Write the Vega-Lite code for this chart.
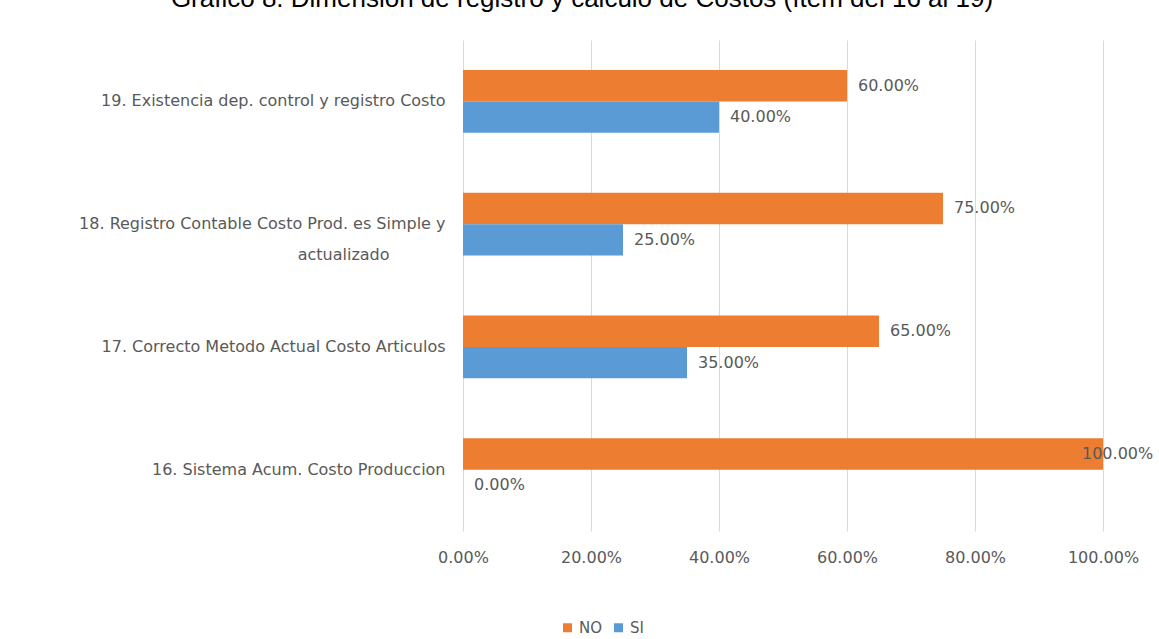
{
  "$schema": "https://vega.github.io/schema/vega-lite/v6.json",
  "width": 640,
  "height": 491,
  "autosize": {"type": "none"},
  "padding": {"left": 463, "top": 40, "right": 56, "bottom": 108},
  "background": "white",
  "title": {
    "text": "Gráfico 8. Dimensión de registro y cálculo de Costos (ítem del 16 al 19)",
    "font": "Liberation Sans",
    "fontSize": 26,
    "fontWeight": "normal",
    "color": "#000000",
    "anchor": "middle",
    "dx": -201,
    "offset": 28
  },
  "config": {
    "view": {"stroke": null},
    "font": "DejaVu Sans"
  },
  "data": {
    "values": [
      {"item": "19. Existencia dep. control y registro Costo", "resp": "NO", "pct": 0.60},
      {"item": "19. Existencia dep. control y registro Costo", "resp": "SI", "pct": 0.40},
      {"item": "18. Registro Contable Costo Prod. es Simple y actualizado", "resp": "NO", "pct": 0.75},
      {"item": "18. Registro Contable Costo Prod. es Simple y actualizado", "resp": "SI", "pct": 0.25},
      {"item": "17. Correcto Metodo Actual Costo Articulos", "resp": "NO", "pct": 0.65},
      {"item": "17. Correcto Metodo Actual Costo Articulos", "resp": "SI", "pct": 0.35},
      {"item": "16. Sistema Acum. Costo Produccion", "resp": "NO", "pct": 1.00},
      {"item": "16. Sistema Acum. Costo Produccion", "resp": "SI", "pct": 0.00}
    ]
  },
  "encoding": {
    "y": {
      "field": "item",
      "type": "nominal",
      "sort": [
        "19. Existencia dep. control y registro Costo",
        "18. Registro Contable Costo Prod. es Simple y actualizado",
        "17. Correcto Metodo Actual Costo Articulos",
        "16. Sistema Acum. Costo Produccion"
      ],
      "scale": {"paddingInner": 0.49, "paddingOuter": 0.245},
      "axis": {
        "title": null,
        "domain": false,
        "ticks": false,
        "grid": false,
        "labelFont": "DejaVu Sans",
        "labelFontSize": 16,
        "labelColor": "#595959",
        "labelPadding": 18,
        "labelLimit": 460,
        "labelLineHeight": 31,
        "labelExpr": "datum.value == '18. Registro Contable Costo Prod. es Simple y actualizado' ? ['18. Registro Contable Costo Prod. es Simple y', 'actualizado\u00a0\u00a0\u00a0\u00a0\u00a0\u00a0\u00a0\u00a0\u00a0\u00a0\u00a0\u200b'] : datum.value"
      }
    },
    "yOffset": {"field": "resp", "type": "nominal", "sort": ["NO", "SI"], "scale": {"paddingInner": 0}},
    "x": {
      "field": "pct",
      "type": "quantitative",
      "scale": {"domain": [0, 1], "nice": false},
      "axis": {
        "title": null,
        "format": ".2%",
        "values": [0, 0.2, 0.4, 0.6, 0.8, 1],
        "domain": false,
        "ticks": false,
        "grid": true,
        "gridColor": "#d9d9d9",
        "gridWidth": 1,
        "labelFlush": false,
        "labelFont": "DejaVu Sans",
        "labelFontSize": 16,
        "labelColor": "#595959",
        "labelPadding": 18
      }
    }
  },
  "layer": [
    {
      "mark": {"type": "bar"},
      "encoding": {
        "color": {
          "field": "resp",
          "type": "nominal",
          "sort": ["NO", "SI"],
          "scale": {"domain": ["NO", "SI"], "range": ["#ED7D31", "#5B9BD5"]},
          "legend": {
            "title": null,
            "orient": "none",
            "direction": "horizontal",
            "legendX": 97,
            "legendY": 580,
            "symbolType": "square",
            "symbolSize": 81,
            "symbolStrokeWidth": 0,
            "labelFont": "DejaVu Sans",
            "labelFontSize": 15,
            "labelColor": "#595959",
            "columnPadding": 8,
            "labelOffset": 4
          }
        }
      }
    },
    {
      "transform": [{"filter": "datum.pct < 1"}],
      "mark": {"type": "text", "align": "left", "baseline": "middle", "dx": 11, "font": "DejaVu Sans", "fontSize": 16, "color": "#595959"},
      "encoding": {"text": {"field": "pct", "type": "quantitative", "format": ".2%"}}
    },
    {
      "transform": [{"filter": "datum.pct >= 1"}],
      "mark": {"type": "text", "align": "left", "baseline": "middle", "dx": -21, "font": "DejaVu Sans", "fontSize": 16, "color": "#595959"},
      "encoding": {"text": {"field": "pct", "type": "quantitative", "format": ".2%"}}
    }
  ]
}
